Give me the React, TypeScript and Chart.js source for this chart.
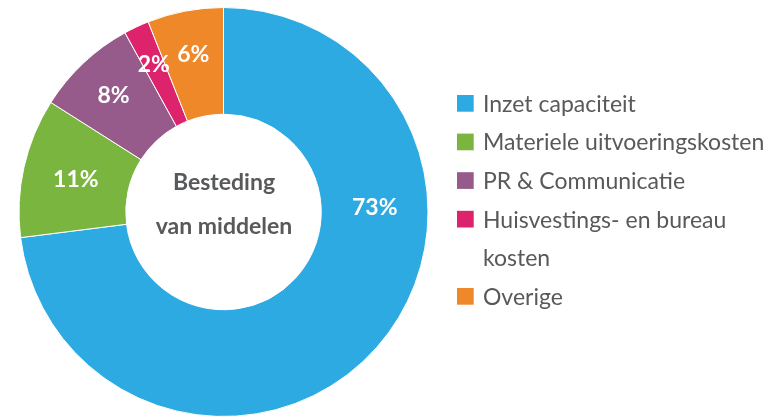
import React, { useEffect, useRef } from "react";
import { Chart, registerables } from "chart.js";

Chart.register(...registerables);

const categories = [
  "Inzet capaciteit",
  "Materiele uitvoeringskosten",
  "PR & Communicatie",
  "Huisvestings- en bureau kosten",
  "Overige",
];
const values = [73, 11, 8, 2, 6];
const percentLabels = ["73%", "11%", "8%", "2%", "6%"];
const centerTitle = ["Besteding", "van middelen"];
const sliceColors = ["#2eaae2", "#7ab540", "#965b8a", "#dd236b", "#ef8829"];

const FONT = "Lato";
const TEXT_GRAY = "#58595b";

const labelPlugin = {
  id: "sliceLabels",
  afterDatasetsDraw(chart: any) {
    const ctx = chart.ctx;
    const meta = chart.getDatasetMeta(0);
    const radiusFactors = [0.74, 0.74, 0.785, 0.8, 0.79];
    ctx.save();
    ctx.fillStyle = "#ffffff";
    ctx.font = `bold 23px ${FONT}`;
    ctx.textAlign = "center";
    ctx.textBaseline = "alphabetic";
    meta.data.forEach((arc: any, i: number) => {
      const p = arc.getProps(["x", "y", "startAngle", "endAngle", "outerRadius"], true);
      let ang = (p.startAngle + p.endAngle) / 2;
      if (i === 0) ang = (-2 * Math.PI) / 180;
      const r = p.outerRadius * radiusFactors[i];
      const tx = p.x + Math.cos(ang) * r;
      const ty = p.y + Math.sin(ang) * r;
      const txt = percentLabels[i];
      const m = ctx.measureText(txt);
      ctx.fillText(txt, tx, ty + (m.actualBoundingBoxAscent - m.actualBoundingBoxDescent) / 2);
    });
    // centre text
    const a0 = meta.data[0];
    const cx = a0.x + 0.5;
    const cy = a0.y;
    ctx.fillStyle = TEXT_GRAY;
    ctx.font = `bold 23px ${FONT}`;
    ctx.fillText(centerTitle[0], cx, cy - 22);
    ctx.fillText(centerTitle[1], cx, cy + 22);
    ctx.restore();
  },
  afterDraw(chart: any) {
    const ctx = chart.ctx;
    ctx.save();
    ctx.font = `23px ${FONT}`;
    ctx.textAlign = "left";
    ctx.textBaseline = "alphabetic";
    const sqX = 457;
    const txtX = 483;
    const maxW = 290;
    const step = 38.6;
    let base = 111.7;
    categories.forEach((label, i) => {
      ctx.fillStyle = sliceColors[i];
      ctx.fillRect(sqX, base - 16.7, 16.7, 16.7);
      ctx.fillStyle = TEXT_GRAY;
      const words = label.split(" ");
      let line = "";
      const lines: string[] = [];
      words.forEach((w) => {
        const test = line ? line + " " + w : w;
        if (ctx.measureText(test).width > maxW && line) {
          lines.push(line);
          line = w;
        } else line = test;
      });
      lines.push(line);
      lines.forEach((ln) => {
        ctx.fillText(ln, txtX, base);
        base += step;
      });
    });
    ctx.restore();
  },
};

export default function App() {
  const ref = useRef<HTMLCanvasElement | null>(null);
  useEffect(() => {
    if (!ref.current) return;
    const chart = new Chart(ref.current, {
      type: "doughnut",
      data: {
        labels: categories,
        datasets: [
          {
            data: values,
            backgroundColor: sliceColors,
            borderColor: "#ffffff",
            borderWidth: 1,
          },
        ],
      },
      options: {
        animation: false,
        responsive: false,
        cutout: "47.8%",
        layout: { padding: { top: 7, bottom: 0, left: 0, right: 325 } },
        plugins: {
          legend: { display: false },
          tooltip: { enabled: false },
        },
      },
      plugins: [labelPlugin],
    });
    return () => chart.destroy();
  }, []);
  return (
    <div style={{ position: "fixed", left: 0, top: 0, width: 772, height: 417, overflow: "hidden", background: "#fff" }}>
      <canvas ref={ref} width={772} height={417} style={{ display: "block" }} />
    </div>
  );
}
